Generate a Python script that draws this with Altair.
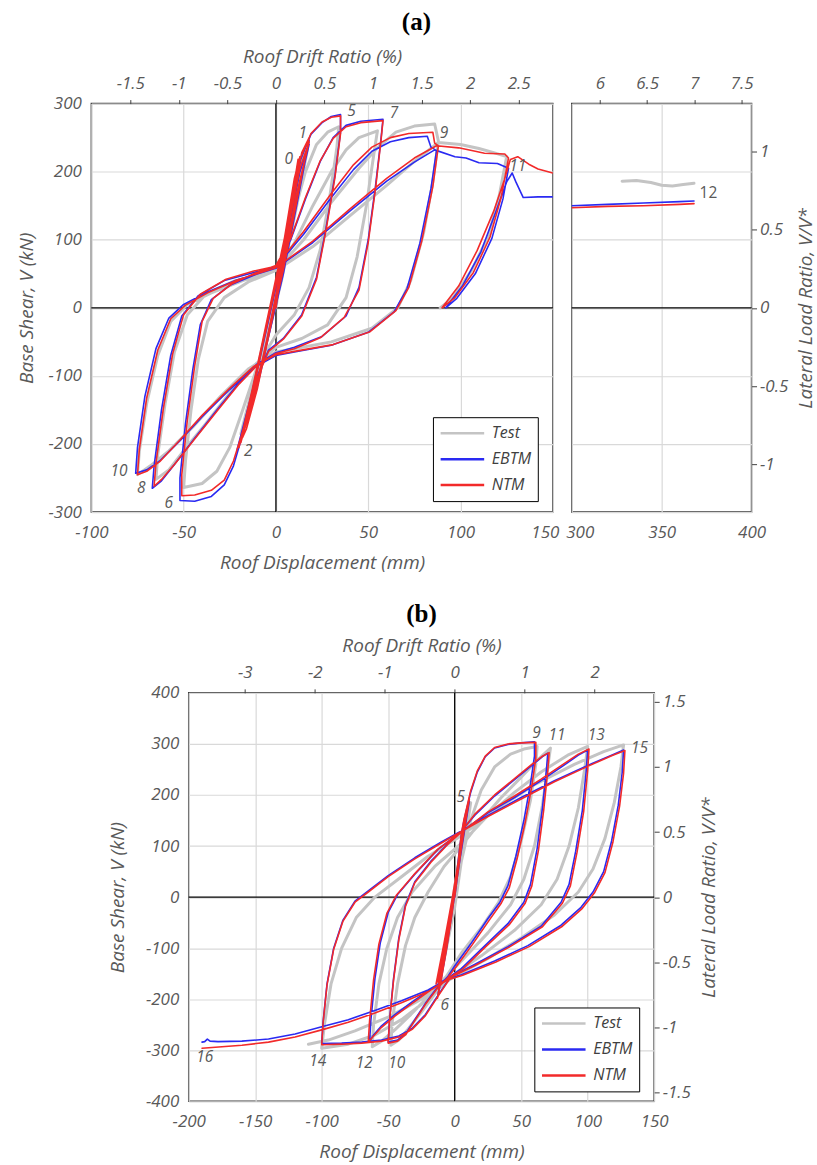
import altair as alt
import pandas as pd

# ---------------------------------------------------------------- constants
MM_PER_PCT = 52.6      # roof displacement (mm) for 1 % roof drift
A_VSTAR = 230.0        # V* of panel (a), kN
B_VSTAR = 255.0        # V* of panel (b), kN

SERIES = ["Test", "EBTM", "NTM"]
COLORS = ["#c4c4c4", "#2a2af2", "#f22a2a"]
WIDTHS = {"Test": 3.0, "EBTM": 1.6, "NTM": 1.6}

# ---------------------------------------------------------------- panel (a) data (mm, kN)
A_EBTM = [(0,0),(6,115),(12,212),(9,160),(2,40),(-5,-50),(-11,-125),(-7,-80),(0,15),(7,130),(14,225),(18,246),
          (13,175),(4,50),(-6,-65),(-14,-150),(-20,-202),(-15,-150),(-5,-30),(5,90),(13,200),(18,240),(11,160),
          (1,15),(-9,-100),(-17,-175),(-21,-208),(-13,-125),(-3,0),(3,70),
          (8,150),(13,215),(19,255),(25,272),(30,281),(35,284),
          (35,258),(32,195),(27,115),(22,45),(14,-10),(4,-45),(-4,-62),
          (-10,-100),(-15,-150),(-19,-195),(-23,-232),(-28,-260),(-35,-277),(-44,-284),(-52,-283),
          (-52,-250),(-49,-170),(-45,-90),(-41,-25),(-35,12),(-25,33),(-12,48),(0,60),
          (8,100),(16,160),(24,215),(31,250),(38,268),(46,274),(58,277),
          (57,250),(54,180),(50,100),(45,30),(38,-12),(25,-42),(10,-58),(0,-66),
          (-10,-82),(-20,-110),(-32,-150),(-45,-195),(-55,-230),(-62,-254),(-67,-265),
          (-66,-232),(-62,-150),(-57,-70),(-51,-12),(-42,18),(-28,40),(-12,52),(0,60),
          (15,108),(30,162),(42,203),(52,230),(62,244),(72,250),(82,252),(84,236),(87,231),
          (84,175),(78,95),(71,28),(64,-6),(50,-36),(30,-55),(10,-65),(0,-70),
          (-12,-88),(-25,-120),(-40,-160),(-52,-195),(-63,-225),(-70,-238),(-76,-243),
          (-75,-205),(-71,-130),(-65,-60),(-58,-15),(-50,5),(-38,22),(-22,40),(0,58),
          (20,96),(40,142),(60,186),(75,214),(86,232),(97,222),(103,220),(110,213),(120,212),(126,205),
          (123,160),(117,102),(108,50),(98,14),(92,0),
          (101,32),(111,82),(119,140),(125,185),(128,198),(130,185),(134,162),(142,163),(150,163)]

A_NTM = [(0,0),(6,118),(12,218),(9,165),(2,45),(-5,-48),(-11,-122),(-7,-78),(0,18),(7,135),(14,228),(18,250),
         (13,180),(4,55),(-6,-62),(-14,-148),(-19,-198),(-15,-148),(-5,-28),(5,95),(13,205),(18,244),(11,165),
         (1,20),(-9,-98),(-17,-172),(-20,-205),(-13,-122),(-3,3),(4,92),(10,190),(13,222),(8,140),(0,8),
         (-8,-92),(-15,-160),(-19,-196),(-12,-110),(-2,18),(6,120),(12,208),(7,120),(-1,-2),(-10,-118),
         (-16,-178),(-18,-190),(-10,-92),(-1,30),(3,72),
         (8,152),(13,218),(19,256),(25,273),(30,280),(35,282),
         (35,256),(32,192),(27,112),(22,42),(14,-12),(4,-46),(-4,-64),
         (-10,-102),(-15,-152),(-19,-190),(-23,-225),(-28,-253),(-35,-268),(-44,-275),(-51,-276),
         (-51,-245),(-48,-165),(-44,-85),(-40,-20),(-34,14),(-24,35),(-12,50),(0,62),
         (8,102),(16,162),(24,216),(31,249),(38,266),(46,272),(58,275),
         (57,248),(54,176),(50,96),(45,26),(37,-14),(24,-44),(10,-60),(0,-67),
         (-10,-84),(-20,-112),(-32,-152),(-45,-196),(-55,-230),(-62,-252),(-66,-262),
         (-65,-228),(-61,-148),(-56,-68),(-50,-10),(-41,20),(-27,42),(-12,54),(0,61),
         (15,112),(30,168),(42,210),(52,236),(62,250),(72,256),(85,258),(86,242),(88,238),
         (85,178),(79,98),(72,30),(65,-4),(51,-35),(31,-54),(10,-64),(0,-69),
         (-12,-86),(-25,-118),(-40,-158),(-52,-194),(-63,-226),(-70,-240),(-75,-245),
         (-74,-208),(-70,-132),(-64,-62),(-57,-16),(-49,4),(-37,22),(-21,41),(0,59),
         (20,98),(40,145),(60,190),(75,220),(87,238),(99,235),(108,230),(113,227),(124,226),(126,220),
         (122,162),(116,104),(107,52),(97,15),(90,0),
         (99,32),(109,84),(118,142),(124,190),(127,218),(131,222),(137,211),(142,204),(150,198)]

A_TEST = [(0,0),(5,90),(11,190),(8,140),(1,25),(-6,-60),(-11,-115),(-6,-60),(1,30),(8,140),(14,215),(17,232),
          (12,160),(3,40),(-7,-70),(-14,-140),(-19,-185),(-13,-120),(-3,-10),
          (5,70),(10,140),(16,200),(22,240),(28,258),(34,266),
          (33,235),(29,160),(24,85),(18,30),(10,-10),(0,-40),
          (-10,-85),(-18,-150),(-25,-205),(-32,-240),(-40,-258),(-50,-264),
          (-49,-225),(-46,-150),(-42,-75),(-37,-20),(-28,15),(-15,38),(0,55),
          (10,95),(20,150),(30,200),(38,232),(45,250),(55,260),
          (53,225),(49,150),(44,75),(38,15),(28,-25),(14,-45),(0,-58),
          (-12,-85),(-25,-125),(-38,-170),(-50,-210),(-58,-238),(-65,-252),
          (-64,-215),(-60,-140),(-55,-65),(-48,-10),(-38,20),(-22,40),(0,55),
          (15,100),(30,155),(45,205),(55,235),(65,258),(75,267),(86,270),(88,245),
          (85,185),(80,110),(73,40),(66,0),(52,-30),(30,-50),(10,-60),(0,-65),
          (-15,-90),(-30,-130),(-45,-175),(-58,-210),(-68,-232),(-75,-245),
          (-74,-210),(-70,-140),(-64,-70),(-57,-20),(-48,5),(-35,22),(-18,40),(0,55),
          (20,90),(40,135),(60,180),(75,215),(88,243),(100,240),(110,234),(118,228),(125,222),
          (121,165),(115,105),(106,55),(96,15),(89,0)]

A12_TEST = [(328,186),(336,187),(344,184),(350,180),(356,179),(362,181),(368,183)]
A12_EBTM = [(300,150),(320,152),(340,154),(360,156),(368,157)]
A12_NTM = [(300,147),(320,149),(340,150),(360,152),(368,153)]

A_LABELS = ["0", "1", "2", "5", "7", "9", "11", "6", "8", "10"]
A_LABEL_X = [7, 14.6, -15, 41, 64, 91, 131, -58, -73, -85]
A_LABEL_V = [218, 257, -210, 289, 286, 257, 208, -286, -265, -239]
A12_LABELS = ["12"]
A12_LABEL_X = [376]
A12_LABEL_V = [169]

A_X_TICKS = [-100, -50, 0, 50, 100, 150]
A12_X_TICKS = [300, 350, 400]
A_Y_TICKS = [-300, -200, -100, 0, 100, 200, 300]
A_DRIFT_TICKS = [-1.5, -1, -0.5, 0, 0.5, 1, 1.5, 2, 2.5]
A12_DRIFT_TICKS = [6, 6.5, 7, 7.5]
A_RATIO_TICKS = [-1, -0.5, 0, 0.5, 1]

# ---------------------------------------------------------------- panel (b) data (mm, kN)
B_EBTM = [(0,0),(3,60),(6,125),(4,75),(0,5),(-5,-80),(-10,-150),(-7,-100),(-1,-10),(4,85),(8,140),(5,95),(0,5),
          (-6,-95),(-12,-165),(-9,-118),(-2,-20),(3,60),(6,120),(9,165),(11,188),(8,140),(4,75),(0,15),(-4,-55),
          (-8,-125),(-11,-172),(-13,-196),(-10,-158),(-6,-98),(-2,-30),(1,30),(3,80),(5,122),
          (7,150),(12,205),(17,245),(23,275),(30,292),(40,299),(50,302),(60,304),
          (60,276),(57,222),(52,150),(46,80),(40,22),(34,-10),(25,-42),(12,-92),(0,-135),(-5,-155),
          (-14,-180),(-22,-208),(-30,-240),(-37,-268),(-43,-280),(-50,-284),
          (-49,-240),(-46,-160),(-42,-80),(-37,-15),(-30,30),(-18,70),(-5,105),(4,126),
          (15,160),(30,198),(45,230),(58,258),(66,275),(70,282),
          (69,250),(66,175),(62,95),(57,25),(52,-10),(40,-52),(22,-97),(5,-140),(-5,-158),
          (-18,-180),(-32,-205),(-45,-230),(-55,-252),(-61,-270),(-64,-282),
          (-63,-240),(-60,-160),(-56,-90),(-50,-30),(-43,5),(-30,45),(-12,95),(5,128),
          (25,165),(45,195),(65,228),(82,258),(93,278),(100,288),
          (99,250),(96,170),(91,90),(86,25),(80,-10),(65,-57),(40,-97),(15,-132),(-3,-156),
          (-12,-190),(-22,-230),(-32,-257),(-42,-272),(-55,-280),(-70,-284),(-85,-286),(-100,-287),
          (-99,-245),(-96,-170),(-91,-100),(-84,-45),(-75,-8),(-65,12),(-50,42),(-30,77),(-10,108),(4,128),
          (25,160),(50,195),(75,228),(100,258),(118,278),(127,288),
          (126,245),(123,180),(118,110),(112,50),(104,10),(95,-20),(80,-55),(55,-95),(30,-125),(5,-152),(-5,-160),
          (-20,-182),(-40,-203),(-60,-222),(-80,-240),(-100,-254),(-120,-268),(-140,-278),(-160,-282),
          (-178,-283),(-184,-282),(-186,-278),(-188,-283),(-190,-284)]

B_NTM = [(0,0),(3,62),(6,128),(4,78),(0,8),(-5,-78),(-10,-152),(-7,-102),(-1,-8),(4,88),(8,143),(5,98),(0,8),
         (-6,-92),(-12,-168),(-9,-120),(-2,-18),(3,62),(6,124),(9,168),(11,192),(8,145),(4,80),(0,18),(-4,-52),
         (-8,-122),(-11,-170),(-13,-198),(-10,-160),(-6,-100),(-2,-32),(1,28),(3,78),(5,124),
         (7,135),(3,60),(-2,-20),(-7,-100),(-12,-160),(-14,-170),(-8,-90),(-2,-5),(4,90),(7,132),(2,40),
         (-4,-50),(-10,-140),(-13,-165),(-6,-70),(1,30),(5,124),
         (7,152),(12,208),(17,247),(23,276),(30,293),(40,300),(50,302),(61,303),
         (61,272),(58,218),(53,146),(47,76),(41,18),(35,-12),(26,-45),(13,-94),(1,-137),(-5,-157),
         (-14,-182),(-22,-210),(-30,-242),(-37,-270),(-43,-282),(-50,-286),
         (-49,-243),(-46,-163),(-42,-83),(-37,-18),(-30,28),(-18,68),(-5,104),(4,125),
         (15,162),(30,200),(45,232),(58,260),(66,276),(71,283),
         (70,248),(67,172),(63,92),(58,22),(53,-12),(41,-54),(23,-98),(6,-141),(-5,-159),
         (-18,-182),(-32,-208),(-45,-233),(-55,-255),(-61,-272),(-65,-284),
         (-64,-242),(-61,-162),(-57,-92),(-51,-32),(-44,3),(-31,43),(-13,93),(5,127),
         (25,167),(45,198),(65,231),(82,261),(93,280),(101,290),
         (100,248),(97,168),(92,88),(87,22),(81,-12),(66,-58),(41,-98),(16,-133),(-3,-157),
         (-12,-192),(-22,-232),(-32,-259),(-42,-274),(-55,-282),(-70,-286),(-85,-288),(-100,-289),
         (-99,-247),(-96,-172),(-91,-102),(-84,-47),(-75,-10),(-65,10),(-50,40),(-30,75),(-10,106),(4,127),
         (25,158),(50,192),(75,226),(100,256),(118,277),(128,287),
         (127,243),(124,178),(119,108),(113,48),(105,8),(96,-22),(81,-57),(56,-97),(31,-127),(6,-153),(-5,-162),
         (-20,-185),(-40,-207),(-60,-227),(-80,-245),(-100,-260),(-120,-274),(-140,-284),(-160,-290),
         (-180,-294),(-190,-296)]

B_TEST = [(0,0),(4,70),(7,130),(4,80),(0,10),(-5,-70),(-10,-140),(-6,-90),(0,0),(5,90),(9,150),(5,100),(0,20),
          (-6,-90),(-12,-170),(-7,-110),(0,-20),(5,70),(9,140),(12,185),(9,130),(4,60),(-2,-30),(-8,-120),
          (-13,-185),(-10,-140),(-5,-70),(0,0),(5,70),
          (12,150),(20,210),(30,255),(42,280),(52,290),(62,295),
          (61,260),(57,190),(50,110),(42,40),(33,-10),(20,-60),(5,-110),(-5,-150),
          (-15,-190),(-25,-225),(-35,-258),(-42,-280),(-48,-290),
          (-47,-245),(-43,-170),(-37,-95),(-30,-40),(-20,10),(-8,60),(5,100),
          (20,150),(35,195),(50,235),(62,268),(72,292),
          (70,255),(66,180),(60,100),(52,35),(42,-15),(25,-70),(5,-125),(-8,-160),
          (-20,-195),(-33,-230),(-45,-260),(-55,-282),(-62,-293),
          (-61,-250),(-57,-170),(-51,-100),(-43,-40),(-32,10),(-15,60),(5,105),
          (25,160),(45,205),(65,245),(85,278),(100,295),
          (98,255),(93,175),(86,100),(77,35),(65,-15),(45,-65),(20,-115),(0,-150),
          (-20,-200),(-40,-240),(-60,-270),(-80,-288),(-100,-296),
          (-98,-250),(-93,-170),(-85,-100),(-74,-40),(-60,0),(-40,40),(-20,80),(5,120),
          (30,170),(60,220),(90,260),(112,285),(127,298),
          (125,255),(120,185),(113,115),(104,55),(93,10),(75,-35),(50,-80),(25,-120),(0,-155),
          (-25,-200),(-50,-235),(-75,-262),(-95,-280),(-110,-288)]

B_LABELS = ["5", "9", "11", "13", "15", "6", "10", "12", "14", "16"]
B_LABEL_X = [4.5, 61.5, 77, 106.5, 139, -7.5, -43.5, -68, -103, -188]
B_LABEL_V = [196, 322, 318, 318, 292, -212, -324, -324, -320, -314]

B_X_TICKS = [-200, -150, -100, -50, 0, 50, 100, 150]
B_Y_TICKS = [-400, -300, -200, -100, 0, 100, 200, 300, 400]
B_DRIFT_TICKS = [-3, -2, -1, 0, 1, 2]
B_RATIO_TICKS = [-1.5, -1, -0.5, 0, 0.5, 1, 1.5]

# ---------------------------------------------------------------- styling helpers
FONT = "Open Sans"
GRAY = "#595959"
LABEL_SIZE = 17
TITLE_SIZE = 19
LABEL_EXPR = "'' + datum.value"
COLOR_SCALE = alt.Scale(domain=SERIES, range=COLORS)


def sc(dom):
    return alt.Scale(domain=dom, nice=False, zero=False)


def frame(points, name):
    return pd.DataFrame({"x": [p[0] for p in points], "v": [p[1] for p in points],
                         "i": list(range(len(points))), "series": name})


def legend_at(lx, ly):
    return alt.Legend(orient="none", legendX=lx, legendY=ly, title=None, symbolType="stroke",
                      symbolSize=1900, symbolStrokeWidth=2.5, clipHeight=20, rowPadding=6,
                      labelFont=FONT, labelFontStyle="italic", labelFontSize=16, labelColor="#404040",
                      labelOffset=6, strokeColor="black", fillColor="white", padding=6)


def line_layers(series_pts, xdom, ydom, legend):
    out = []
    for name, p in series_pts:
        out.append(alt.Chart(frame(p, name)).mark_line(strokeWidth=WIDTHS[name], strokeJoin="round",
                                                       strokeCap="round", clip=True).encode(
            x=alt.X("x:Q", scale=sc(xdom), axis=None),
            y=alt.Y("v:Q", scale=sc(ydom), axis=None),
            order="i:Q",
            color=alt.Color("series:N", scale=COLOR_SCALE, legend=legend)))
    return out


def axes_layer(xdom, ydom, xticks, yticks, xtitle, ytitle, ylabels=True, xlabel_offset=None,
               ytitle_pad=12):
    df = pd.DataFrame({"x": [xdom[0]], "v": [ydom[0]]})
    xkw = dict(values=xticks, grid=True, labelExpr=LABEL_EXPR, labelFlush=False, labelOverlap=False,
               labelPadding=12, titlePadding=13, ticks=False)
    if xlabel_offset is not None:
        xkw["labelOffset"] = xlabel_offset
    xaxis = alt.Axis(title=xtitle, **xkw) if xtitle else alt.Axis(title=None, **xkw)
    if ylabels:
        yaxis = alt.Axis(values=yticks, grid=True, labelExpr=LABEL_EXPR, labelOverlap=False,
                         labelPadding=10, titlePadding=ytitle_pad, ticks=False, title=ytitle)
    else:
        yaxis = alt.Axis(values=yticks, grid=True, labels=False, ticks=False, title=None)
    return alt.Chart(df).mark_point(opacity=0).encode(
        x=alt.X("x:Q", scale=sc(xdom), axis=xaxis),
        y=alt.Y("v:Q", scale=sc(ydom), axis=yaxis))


def top_layer(xdom, ticks, title):
    ddom = [xdom[0] / MM_PER_PCT, xdom[1] / MM_PER_PCT]
    df = pd.DataFrame({"d": [ddom[0]]})
    kw = dict(orient="top", values=ticks, grid=False, labelExpr=LABEL_EXPR, labelFlush=False,
              labelOverlap=False, ticks=True, tickSize=4, tickColor="#404040", labelPadding=7,
              titlePadding=8)
    axis = alt.Axis(title=title, **kw) if title else alt.Axis(title=None, **kw)
    return alt.Chart(df).mark_point(opacity=0).encode(x=alt.X("d:Q", scale=sc(ddom), axis=axis))


def right_layer(ydom, vstar, ticks):
    rdom = [ydom[0] / vstar, ydom[1] / vstar]
    df = pd.DataFrame({"r": [rdom[0]]})
    axis = alt.Axis(orient="right", values=ticks, grid=False, labelExpr=LABEL_EXPR, labelOverlap=False,
                    ticks=True, tickSize=5, tickColor="#404040", labelPadding=3, titlePadding=9,
                    titleAngle=270, titleBaseline="top", title="Lateral Load Ratio, V/V*")
    return alt.Chart(df).mark_point(opacity=0).encode(y=alt.Y("r:Q", scale=sc(rdom), axis=axis))


def zero_rules(xdom, ydom, vertical=True):
    df = pd.DataFrame({"z": [0]})
    out = [alt.Chart(df).mark_rule(color="black", strokeWidth=1.3).encode(
        y=alt.Y("z:Q", scale=sc(ydom), axis=None))]
    if vertical:
        out.append(alt.Chart(df).mark_rule(color="black", strokeWidth=1.3).encode(
            x=alt.X("z:Q", scale=sc(xdom), axis=None)))
    return out


def label_layer(texts, xs, vs, xdom, ydom, style="italic"):
    df = pd.DataFrame({"t": texts, "x": xs, "v": vs})
    return alt.Chart(df).mark_text(font=FONT, fontStyle=style, fontSize=15.5, color=GRAY).encode(
        x=alt.X("x:Q", scale=sc(xdom), axis=None),
        y=alt.Y("v:Q", scale=sc(ydom), axis=None),
        text="t:N")


# ---------------------------------------------------------------- panel (a)
AX = [-100, 150]
AY = [-300, 300]
A12X = [300, 400]

a_left = alt.layer(
    axes_layer(AX, AY, A_X_TICKS, A_Y_TICKS, "Roof Displacement (mm)", "Base Shear, V (kN)",
               xlabel_offset={"condition": {"test": "datum.value == 150", "value": -8}, "value": 0}),
    top_layer(AX, A_DRIFT_TICKS, "Roof Drift Ratio (%)"),
    *zero_rules(AX, AY),
    *line_layers([("Test", A_TEST), ("EBTM", A_EBTM), ("NTM", A_NTM)], AX, AY, legend_at(342, 314)),
    label_layer(A_LABELS, A_LABEL_X, A_LABEL_V, AX, AY),
).resolve_scale(x="independent", y="independent").properties(width=462, height=409)

a_right = alt.layer(
    axes_layer(A12X, AY, A12_X_TICKS, A_Y_TICKS, None, None, ylabels=False,
               xlabel_offset={"condition": {"test": "datum.value == 300", "value": 8}, "value": 0}),
    top_layer(A12X, A12_DRIFT_TICKS, None),
    right_layer(AY, A_VSTAR, A_RATIO_TICKS),
    *zero_rules(A12X, AY, vertical=False),
    *line_layers([("Test", A12_TEST), ("EBTM", A12_EBTM), ("NTM", A12_NTM)], A12X, AY, None),
    label_layer(A12_LABELS, A12_LABEL_X, A12_LABEL_V, A12X, AY, style="normal"),
).resolve_scale(x="independent", y="independent").properties(width=180, height=409)

TITLE_KW = dict(font="Liberation Serif", fontSize=25, fontWeight="bold", color="black", anchor="middle")

panel_a = alt.hconcat(a_left, a_right, spacing=19, bounds="flush").resolve_scale(
    color="independent").properties(title=alt.TitleParams("(a)", offset=12, **TITLE_KW))

# ---------------------------------------------------------------- panel (b)
BX = [-200, 150]
BY = [-400, 400]

panel_b = alt.layer(
    axes_layer(BX, BY, B_X_TICKS, B_Y_TICKS, "Roof Displacement (mm)", "Base Shear, V (kN)",
               ytitle_pad=18),
    top_layer(BX, B_DRIFT_TICKS, "Roof Drift Ratio (%)"),
    right_layer(BY, B_VSTAR, B_RATIO_TICKS),
    *zero_rules(BX, BY),
    *line_layers([("Test", B_TEST), ("EBTM", B_EBTM), ("NTM", B_NTM)], BX, BY, legend_at(346, 315)),
    label_layer(B_LABELS, B_LABEL_X, B_LABEL_V, BX, BY),
).resolve_scale(x="independent", y="independent").properties(
    width=466, height=409, title=alt.TitleParams("(b)", offset=10, **TITLE_KW))

chart = alt.vconcat(panel_a, panel_b, spacing=28, center=True).resolve_scale(
    color="independent").properties(
    padding={"left": 16, "top": 9, "right": 0, "bottom": 0}
).configure_view(
    stroke="#3c3c3c", strokeWidth=1.5
).configure_axis(
    labelFont=FONT, labelFontStyle="italic", labelFontSize=LABEL_SIZE, labelColor=GRAY,
    titleFont=FONT, titleFontStyle="italic", titleFontSize=TITLE_SIZE, titleFontWeight="normal",
    titleColor=GRAY, gridColor="#d9d9d9", gridWidth=1.2, domain=False
)

chart.save("out.html", embed_options={"renderer": "svg", "actions": False})
